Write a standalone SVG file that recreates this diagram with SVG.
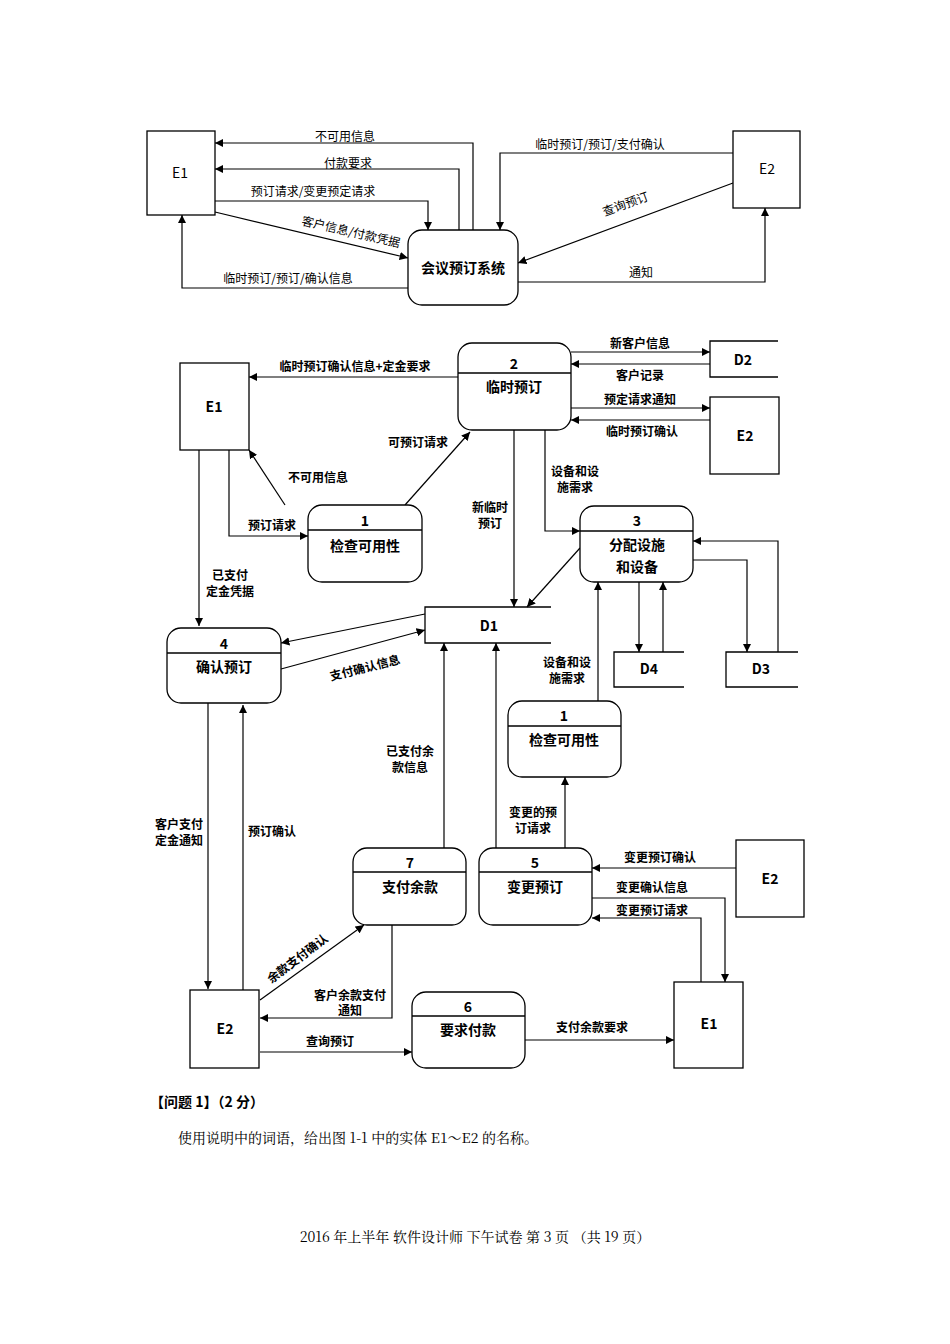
<svg xmlns="http://www.w3.org/2000/svg" width="950" height="1344" viewBox="0 0 950 1344">
<defs>
<marker id="a" viewBox="0 0 10 10" refX="10" refY="5" markerWidth="7" markerHeight="7" orient="auto"><path d="M0,0L10,5L0,10z" fill="#000"/></marker>
<style>
rect,path.b{fill:#fff;stroke:#000;stroke-width:1.3}
.c path,.c line{fill:none;stroke:#000;stroke-width:1.2;marker-end:url(#a)}
text{font-family:"Noto Sans CJK SC","Noto Sans",sans-serif;font-size:12px;text-anchor:middle;fill:#000}
.t{font-weight:bold;font-size:13px}
.n{font-weight:bold;font-size:14px}
.o{fill:none;stroke:#000;stroke-width:1.3}
</style>
</defs>
<rect x="0" y="0" width="950" height="1344" style="stroke:none"/>
<g class="c">
<path d="M473,230V143H215"/><path d="M459,230V169H215"/><path d="M215,201H428V230"/><line x1="215" y1="212" x2="408" y2="258"/>
<path d="M408,288H182V215"/><path d="M733,153H500V230"/><line x1="733" y1="183" x2="518" y2="263"/><path d="M518,282H765V208"/>
<line x1="571" y1="352" x2="710" y2="352"/><line x1="710" y1="364" x2="571" y2="364"/><line x1="571" y1="408" x2="710" y2="408"/><line x1="710" y1="420" x2="571" y2="420"/>
<line x1="458" y1="377" x2="249" y2="377"/><line x1="405" y1="505" x2="470" y2="432"/><line x1="285" y1="505" x2="249" y2="450"/>
<path d="M229,450V536H308"/><path d="M199,450V626"/><line x1="425" y1="614" x2="281" y2="643"/><line x1="281" y1="669" x2="425" y2="630"/>
<path d="M514,430V607"/><path d="M545,430V531H580"/><line x1="580" y1="548" x2="527" y2="607"/>
<path d="M639,582V652"/><path d="M663,652V582"/><path d="M693,560H747V652"/><path d="M778,652V541H693"/>
<path d="M598,701V582"/><path d="M565,848V777"/><path d="M444,848V643"/><path d="M496,848V643"/>
<line x1="736" y1="868" x2="592" y2="868"/><path d="M592,898H725V982"/><path d="M701,982V918H592"/>
<path d="M208,703V989"/><path d="M243,990V705"/><line x1="260" y1="1000" x2="364" y2="925"/><path d="M392,925V1018H260"/>
<path d="M260,1052H412"/><path d="M525,1040H674"/>
</g>
<g id="tE1"><rect x="147" y="131" width="68" height="84"/><text x="180" y="178" style="font-size:14px">E1</text></g>
<g id="tE2"><rect x="733" y="131" width="67" height="77"/><text x="767" y="174" style="font-size:14px">E2</text></g>
<g id="sys"><rect x="408" y="230" width="110" height="75" rx="14"/><text x="463" y="273" class="n">会议预订系统</text></g>
<g id="labelsTop">
<text x="345" y="141">不可用信息</text><text x="348" y="168">付款要求</text><text x="313" y="196">预订请求/变更预定请求</text>
<text x="350" y="236" transform="rotate(13 350 236)">客户信息/付款凭据</text><text x="288" y="283">临时预订/预订/确认信息</text>
<text x="600" y="149">临时预订/预订/支付确认</text><text x="627" y="208" transform="rotate(-20 627 208)">查询预订</text><text x="641" y="277">通知</text>
</g>
<g id="p2"><rect x="458" y="343" width="113" height="87" rx="14"/><line class="o" x1="458" y1="373" x2="571" y2="373"/><text x="514" y="369" class="n">2</text><text x="514" y="392" class="n">临时预订</text></g>
<g id="E1a"><rect x="180" y="363" width="69" height="87"/><text x="214" y="412" class="n">E1</text></g>
<g id="D2"><path class="o" d="M778,341H710V377H778"/><text x="743" y="365" class="n">D2</text></g>
<g id="E2a"><rect x="710" y="397" width="69" height="77"/><text x="745" y="441" class="n">E2</text></g>
<g id="p1a"><rect x="308" y="505" width="114" height="77" rx="14"/><line class="o" x1="308" y1="530" x2="422" y2="530"/><text x="365" y="526" class="n">1</text><text x="365" y="551" class="n">检查可用性</text></g>
<g id="p4"><rect x="167" y="628" width="114" height="75" rx="14"/><line class="o" x1="167" y1="653" x2="281" y2="653"/><text x="224" y="649" class="n">4</text><text x="224" y="672" class="n">确认预订</text></g>
<g id="D1"><path class="o" d="M551,607H425V643H551"/><text x="489" y="631" class="n">D1</text></g>
<g id="p3"><rect x="580" y="506" width="113" height="76" rx="14"/><line class="o" x1="580" y1="531" x2="693" y2="531"/><text x="637" y="526" class="n">3</text><text x="637" y="550" class="n">分配设施</text><text x="637" y="572" class="n">和设备</text></g>
<g id="D4"><path class="o" d="M684,652H614V687H684"/><text x="649" y="674" class="n">D4</text></g>
<g id="D3"><path class="o" d="M798,652H726V687H798"/><text x="761" y="674" class="n">D3</text></g>
<g id="p1b"><rect x="508" y="701" width="113" height="76" rx="14"/><line class="o" x1="508" y1="726" x2="621" y2="726"/><text x="564" y="721" class="n">1</text><text x="564" y="745" class="n">检查可用性</text></g>
<g id="p7"><rect x="353" y="848" width="113" height="77" rx="14"/><line class="o" x1="353" y1="872" x2="466" y2="872"/><text x="410" y="868" class="n">7</text><text x="410" y="892" class="n">支付余款</text></g>
<g id="p5"><rect x="479" y="848" width="113" height="77" rx="14"/><line class="o" x1="479" y1="872" x2="592" y2="872"/><text x="535" y="868" class="n">5</text><text x="535" y="892" class="n">变更预订</text></g>
<g id="E2b"><rect x="736" y="840" width="68" height="77"/><text x="770" y="884" class="n">E2</text></g>
<g id="E1b"><rect x="674" y="982" width="69" height="86"/><text x="709" y="1029" class="n">E1</text></g>
<g id="E2c"><rect x="190" y="990" width="69" height="78"/><text x="225" y="1034" class="n">E2</text></g>
<g id="p6"><rect x="412" y="992" width="113" height="76" rx="14"/><line class="o" x1="412" y1="1016" x2="525" y2="1016"/><text x="468" y="1012" class="n">6</text><text x="468" y="1035" class="n">要求付款</text></g>
<g id="labels" style="font-weight:bold">
<text x="640" y="348">新客户信息</text><text x="640" y="380">客户记录</text><text x="640" y="404">预定请求通知</text><text x="642" y="436">临时预订确认</text>
<text x="355" y="371">临时预订确认信息+定金要求</text><text x="418" y="447">可预订请求</text><text x="318" y="482">不可用信息</text><text x="272" y="530">预订请求</text>
<text x="230" y="580">已支付</text><text x="230" y="596">定金凭据</text>
<text x="490" y="512">新临时</text><text x="490" y="528">预订</text><text x="575" y="476">设备和设</text><text x="575" y="492">施需求</text>
<text x="366" y="672" transform="rotate(-14 366 672)">支付确认信息</text>
<text x="567" y="667">设备和设</text><text x="567" y="683">施需求</text>
<text x="410" y="756">已支付余</text><text x="410" y="772">款信息</text><text x="533" y="817">变更的预</text><text x="533" y="833">订请求</text>
<text x="660" y="862">变更预订确认</text><text x="652" y="892">变更确认信息</text><text x="652" y="915">变更预订请求</text>
<text x="179" y="829">客户支付</text><text x="179" y="845">定金通知</text><text x="272" y="836">预订确认</text>
<text x="300" y="962" transform="rotate(-37 300 962)">余款支付确认</text>
<text x="350" y="1000">客户余款支付</text><text x="350" y="1015">通知</text><text x="330" y="1046">查询预订</text><text x="592" y="1032">支付余款要求</text>
</g>
<g id="footer">
<text x="150" y="1107" style="text-anchor:start;font-weight:bold;font-size:14px">【问题 1】（2 分）</text>
<text x="178" y="1143" style="text-anchor:start;font-size:14px;font-family:'Noto Serif CJK SC','Liberation Serif','Noto Sans CJK SC',serif">使用说明中的词语，给出图 1-1 中的实体 E1～E2 的名称。</text>
<text x="475" y="1242" style="font-size:14px;font-family:'Noto Serif CJK SC','Liberation Serif','Noto Sans CJK SC',serif">2016 年上半年  软件设计师  下午试卷  第  3  页  （共 19 页）</text>
</g>
</svg>
